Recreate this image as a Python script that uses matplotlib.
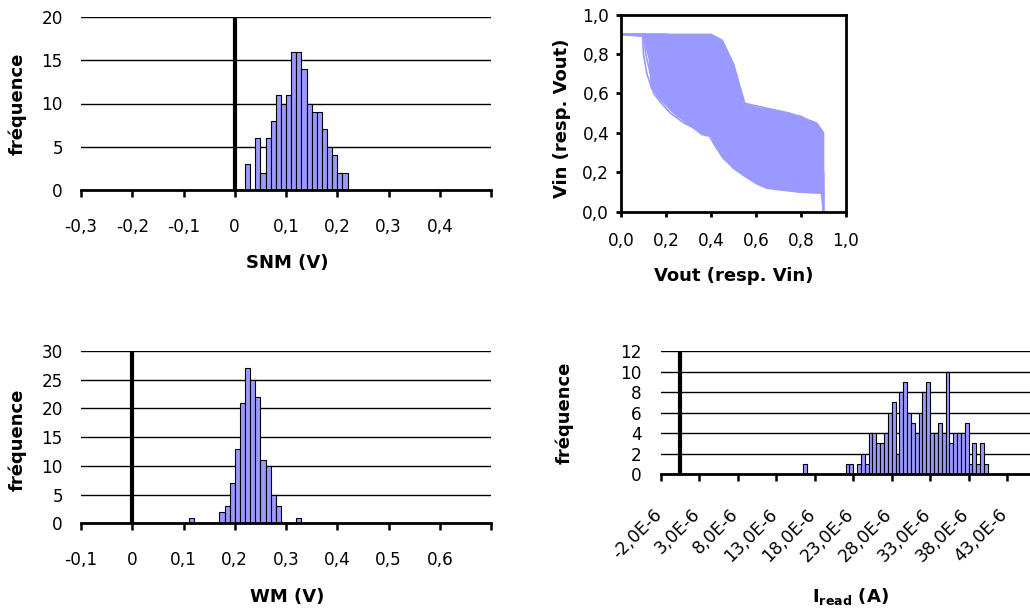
import matplotlib
matplotlib.use("Agg")
import matplotlib.pyplot as plt
import matplotlib.transforms as mtransforms

plt.rcParams["font.family"] = ["DejaVu Sans"]
plt.rcParams["mathtext.fontset"] = "dejavusans"

BAR_COLOR = "#9999ff"

# --- SNM histogram (bins of 0.01 V, left edges) ---
snm_edges = [0.02, 0.03, 0.04, 0.05, 0.06, 0.07, 0.08, 0.09, 0.10, 0.11,
             0.12, 0.13, 0.14, 0.15, 0.16, 0.17, 0.18, 0.19, 0.20, 0.21]
snm_counts = [3, 0, 6, 2, 6, 8, 11, 10, 11, 16, 16, 14, 10, 9, 9, 7, 5, 4, 2, 2]
snm_ticks = [-0.3, -0.2, -0.1, 0.0, 0.1, 0.2, 0.3, 0.4, 0.5]
snm_ticklabels = ["-0,3", "-0,2", "-0,1", "0", "0,1", "0,2", "0,3", "0,4", ""]
snm_yticks = [0, 5, 10, 15, 20]

# --- WM histogram (bins of 0.01 V, left edges) ---
wm_edges = [0.11, 0.17, 0.18, 0.19, 0.20, 0.21, 0.22, 0.23, 0.24, 0.25,
            0.26, 0.27, 0.28, 0.32]
wm_counts = [1, 2, 3, 7, 13, 21, 27, 25, 22, 11, 10, 5, 3, 1]
wm_ticks = [-0.1, 0.0, 0.1, 0.2, 0.3, 0.4, 0.5, 0.6, 0.7]
wm_ticklabels = ["-0,1", "0", "0,1", "0,2", "0,3", "0,4", "0,5", "0,6", ""]
wm_yticks = [0, 5, 10, 15, 20, 25, 30]

# --- Iread histogram (bins of 0.5e-6 A, left edges in 1e-6 A) ---
iread_edges = [16.5, 22.0, 22.5, 23.5, 24.0, 24.5, 25.0, 25.5, 26.0, 26.5,
               27.0, 27.5, 28.0, 28.5, 29.0, 29.5, 30.0, 30.5, 31.0, 31.5,
               32.0, 32.5, 33.0, 33.5, 34.0, 34.5, 35.0, 35.5, 36.0, 36.5,
               37.0, 37.5, 38.0, 38.5, 39.0, 39.5, 40.0]
iread_counts = [1, 1, 1, 1, 2, 1, 4, 4, 3, 3,
                4, 6, 7, 2, 8, 9, 6, 5, 4, 6,
                8, 9, 4, 4, 5, 4, 10, 3, 4, 4,
                4, 5, 1, 3, 1, 3, 1]
iread_ticks = [-2, 3, 8, 13, 18, 23, 28, 33, 38, 43, 48]
iread_ticklabels = ["-2,0E-6", "3,0E-6", "8,0E-6", "13,0E-6", "18,0E-6",
                    "23,0E-6", "28,0E-6", "33,0E-6", "38,0E-6", "43,0E-6", ""]
iread_yticks = [0, 2, 4, 6, 8, 10, 12]

# --- butterfly curves: inverter transfer curves Vout(Vin) ---
vtc_vin = [0.0, 0.1, 0.2, 0.3, 0.35, 0.4, 0.45, 0.5, 0.55, 0.6, 0.7, 0.8, 0.9]
vtc_curves = [
    [0.9, 0.89, 0.80, 0.60, 0.48, 0.37, 0.28, 0.22, 0.18, 0.145, 0.115, 0.10, 0.095],
    [0.9, 0.90, 0.88, 0.78, 0.68, 0.55, 0.42, 0.32, 0.25, 0.19, 0.13, 0.11, 0.10],
    [0.9, 0.90, 0.90, 0.85, 0.78, 0.68, 0.55, 0.42, 0.32, 0.24, 0.15, 0.12, 0.10],
    [0.9, 0.90, 0.90, 0.89, 0.86, 0.80, 0.70, 0.56, 0.42, 0.30, 0.18, 0.13, 0.10],
    [0.9, 0.90, 0.90, 0.90, 0.90, 0.90, 0.87, 0.75, 0.55, 0.35, 0.20, 0.13, 0.10],
]
# region swept by all Monte Carlo curves
env_x = [0.0, 0.1, 0.116, 0.13, 0.17, 0.23, 0.3, 0.356, 0.4, 0.405, 0.45,
         0.5, 0.55, 0.6, 0.645, 0.7, 0.8, 0.875, 0.9]
env_low = [0.9, 0.9, 0.84, 0.63, 0.57, 0.5, 0.44, 0.39, 0.38, 0.35, 0.27,
           0.22, 0.18, 0.14, 0.118, 0.11, 0.097, 0.094, 0.093]
env_high = [0.9, 0.9, 0.9, 0.9, 0.9, 0.9, 0.9, 0.9, 0.9, 0.9, 0.87,
            0.75, 0.55, 0.535, 0.525, 0.515, 0.49, 0.445, 0.4]
bf_ticks = [0.0, 0.2, 0.4, 0.6, 0.8, 1.0]
bf_ticklabels = ["0,0", "0,2", "0,4", "0,6", "0,8", "1,0"]

W, H = 1030, 612
TICK_FS = 12.2
LABEL_FS = 13
fig = plt.figure(figsize=(W / 100, H / 100), dpi=100)


def px_axes(left, top, right, bottom):
    return fig.add_axes([left / W, 1 - bottom / H, (right - left) / W, (bottom - top) / H])


def hist_panel(ax, edges, counts, width, xlim, xticks, xticklabels, yticks, vline):
    ax.bar(edges, counts, width=width, align="edge", color=BAR_COLOR,
           edgecolor="black", linewidth=0.8, zorder=2)
    ax.set_xlim(*xlim)
    ax.set_ylim(yticks[0], yticks[-1])
    ax.set_xticks(xticks)
    ax.set_xticklabels(xticklabels)
    ax.set_yticks(yticks)
    ax.set_axisbelow(True)
    ax.yaxis.grid(True, color="black", linewidth=1.0)
    for s in ["top", "right", "left"]:
        ax.spines[s].set_visible(False)
    ax.spines["bottom"].set_linewidth(2.0)
    ax.spines["bottom"].set_zorder(4)
    ax.axvline(vline, color="black", linewidth=3.0, zorder=4)
    ax.tick_params(axis="x", direction="out", length=5, width=1.8,
                   labelsize=TICK_FS, pad=15)
    ax.tick_params(axis="y", length=0, labelsize=TICK_FS, pad=13)


def set_labels(ax, xlabel, xpos, ylabel, ypos):
    ax.set_xlabel(xlabel, fontsize=LABEL_FS, fontweight="bold")
    ax.xaxis.set_label_coords(*xpos)
    ax.xaxis.label.set_va("center")
    ax.set_ylabel(ylabel, fontsize=LABEL_FS, fontweight="bold")
    ax.yaxis.set_label_coords(*ypos)
    ax.yaxis.label.set_va("center")


# top-left: SNM
ax1 = px_axes(81, 17, 491, 190)
hist_panel(ax1, snm_edges, snm_counts, 0.01, (-0.3, 0.5), snm_ticks,
           snm_ticklabels, snm_yticks, 0.0)
set_labels(ax1, "SNM (V)", (0.502, -0.422), "fréquence", (-0.156, 0.5))

# top-right: butterfly
ax2 = px_axes(621, 14.7, 846, 211.7)
ax2.fill_between(env_x, env_low, env_high, color=BAR_COLOR, linewidth=0, zorder=1)
for vout in vtc_curves:
    ax2.plot(vtc_vin, vout, color=BAR_COLOR, linewidth=1.2, zorder=2)
    ax2.plot(vout, vtc_vin, color=BAR_COLOR, linewidth=1.2, zorder=2)
ax2.set_xlim(0, 1)
ax2.set_ylim(0, 1)
ax2.set_xticks(bf_ticks)
ax2.set_xticklabels(bf_ticklabels)
ax2.set_yticks(bf_ticks)
ax2.set_yticklabels(bf_ticklabels)
for s in ax2.spines.values():
    s.set_linewidth(2.0)
ax2.tick_params(axis="x", direction="out", length=3.5, width=2,
                labelsize=TICK_FS, pad=11)
ax2.tick_params(axis="y", direction="out", length=3.5, width=2,
                labelsize=TICK_FS, pad=5)
set_labels(ax2, "Vout (resp. Vin)", (0.502, -0.326), "Vin (resp. Vout)", (-0.262, 0.476))

# bottom-left: WM
ax3 = px_axes(81, 351, 491, 523.3)
hist_panel(ax3, wm_edges, wm_counts, 0.01, (-0.1, 0.7), wm_ticks,
           wm_ticklabels, wm_yticks, 0.0)
set_labels(ax3, "WM (V)", (0.502, -0.428), "fréquence", (-0.156, 0.483))

# bottom-right: Iread
ax4 = px_axes(661, 351, 1045.5, 474.3)
hist_panel(ax4, iread_edges, iread_counts, 0.5, (-2, 48), iread_ticks,
           iread_ticklabels, iread_yticks, 0.5)
ax4.tick_params(axis="x", labelsize=12.5, pad=22)
ax4.tick_params(axis="y", pad=14)
shift = mtransforms.ScaledTranslation(-1.5 / 72, 0, fig.dpi_scale_trans)
for lab in ax4.get_xticklabels():
    lab.set_rotation(45)
    lab.set_rotation_mode("anchor")
    lab.set_ha("right")
    lab.set_va("center")
    lab.set_transform(lab.get_transform() + shift)
set_labels(ax4, r"$\mathbf{I}_{\mathbf{read}}$ (A)", (0.492, -0.995),
           "fréquence", (-0.25, 0.497))

fig.savefig("out.png", dpi=100)
